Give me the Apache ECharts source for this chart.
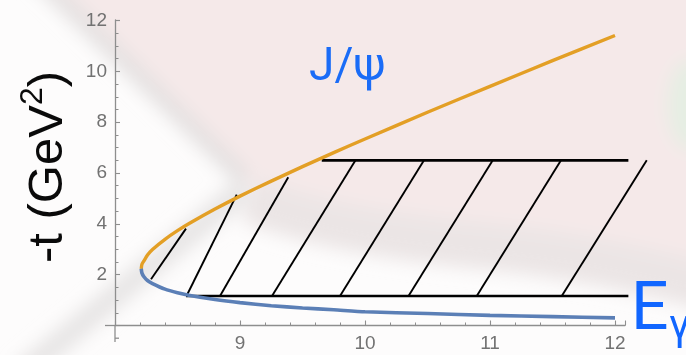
<!DOCTYPE html>
<html>
<head>
<meta charset="utf-8">
<script src="https://cdn.jsdelivr.net/npm/echarts@6/dist/echarts.min.js"></script>
<style>
  html, body { margin: 0; padding: 0; background: #fff; }
  #wrap { position: relative; width: 686px; height: 355px; overflow: hidden; }
  #bg { position: absolute; left: 0; top: 0; }
  #chart { position: absolute; left: 0; top: 0; width: 686px; height: 355px; }
</style>
</head>
<body>
<div id="wrap">
  <!-- soft slide backdrop behind the plot -->
  <svg id="bg" width="686" height="355">
    <defs>
      <filter id="soft" x="-30%" y="-30%" width="160%" height="160%">
        <feGaussianBlur stdDeviation="9"/>
      </filter>
    </defs>
    <rect width="686" height="355" fill="#fdfcfc"/>
    <g filter="url(#soft)">
      <path d="M30,-30 L720,-30 L720,292 Q520,252 310,228 L245,182 Z" fill="#f5e9e9"/>
      <path d="M250,200 Q330,232 480,246 Q600,258 720,290" stroke="#ebe5e5" stroke-width="46" fill="none"/>
      <path d="M30,-30 L245,180" stroke="#e2dfdf" stroke-width="16" fill="none"/>
      <path d="M245,188 L20,375" stroke="#e6e4e4" stroke-width="22" fill="none"/>
      <ellipse cx="690" cy="105" rx="22" ry="45" fill="#e5eee3"/>
    </g>
  </svg>
  <div id="chart"></div>
</div>
<script>
// Photon energy E_γ (GeV) and the kinematic limits of -t (GeV^2)
const energy = [8.21, 8.215, 8.23, 8.26, 8.3, 8.4, 8.5, 8.6, 8.8, 9.0, 9.25, 9.5, 9.75, 10, 10.5, 11, 11.5, 12];
const tUpper = [2.23, 2.40, 2.53, 2.77, 2.99, 3.39, 3.73, 4.03, 4.58, 5.09, 5.68, 6.25, 6.80, 7.34, 8.39, 9.41, 10.42, 11.41];
const tLower = [2.23, 2.07, 1.93, 1.77, 1.65, 1.43, 1.29, 1.18, 1.02, 0.90, 0.78, 0.69, 0.62, 0.54, 0.47, 0.40, 0.35, 0.30];

// Hatched acceptance band: slanted strokes and the two horizontal edges
const hatchLines = [
  [[8.288, 1.82], [8.568, 3.81]],
  [[8.572, 1.16], [8.974, 5.15]],
  [[8.840, 1.16], [9.386, 5.83]],
  [[9.256, 1.16], [9.924, 6.50]],
  [[9.800, 1.16], [10.472, 6.50]],
  [[10.348, 1.16], [11.022, 6.50]],
  [[10.894, 1.16], [11.568, 6.50]],
  [[11.574, 1.16], [12.254, 6.50]]
];
const bandEdges = [
  [[9.654, 6.50], [12.107, 6.50]],
  [[8.568, 1.16], [12.107, 1.16]]
];

// Axis ticks
const xTicks = [9, 10, 11, 12];
const yTicks = [2, 4, 6, 8, 10, 12];

// Short axis stubs running past the origin
const axisStubs = [
  [[7.92, 0], [8, 0]],
  [[8, 0], [8, -0.65]],
  [[8, -0.5], [8.032, -0.5]]
];

const AXIS_GRAY = '#8e8e8e';
const LABEL_GRAY = '#727272';

const chart = echarts.init(document.getElementById('chart'), null, { renderer: 'canvas' });

// Straight segments drawn through the cartesian scales, free of grid clipping
const segmentSeries = (segs, color, width) => ({
  type: 'custom',
  coordinateSystem: 'cartesian2d',
  clip: false,
  silent: true,
  z: 3,
  encode: { x: [0, 2], y: [1, 3] },
  data: segs.map(s => [s[0][0], s[0][1], s[1][0], s[1][1]]),
  renderItem: (params, api) => {
    const a = api.coord([api.value(0), api.value(1)]);
    const b = api.coord([api.value(2), api.value(3)]);
    return {
      type: 'line',
      shape: { x1: a[0], y1: a[1], x2: b[0], y2: b[1] },
      style: { stroke: color, lineWidth: width, lineCap: 'butt' }
    };
  }
});

chart.setOption({
  animation: false,
  backgroundColor: 'transparent',
  grid: { left: 115, right: 61, top: 20, bottom: 29.5, containLabel: false },
  xAxis: {
    type: 'value', min: 8, max: 12.08, interval: 1,
    axisLine: { show: true, lineStyle: { color: AXIS_GRAY, width: 1.3 } },
    axisTick: { show: true, inside: true, length: 5, lineStyle: { color: AXIS_GRAY, width: 1.1 } },
    minorTick: { show: true, splitNumber: 5, length: 3, lineStyle: { color: AXIS_GRAY, width: 1 } },
    splitLine: { show: false },
    axisLabel: {
      show: true, margin: 9, color: LABEL_GRAY, fontSize: 19, fontFamily: 'Liberation Sans',
      formatter: v => (xTicks.indexOf(v) >= 0 ? String(v) : '')
    }
  },
  yAxis: {
    type: 'value', min: 0, max: 12.02, interval: 2,
    axisLine: { show: true, lineStyle: { color: AXIS_GRAY, width: 1.3 } },
    axisTick: { show: true, inside: true, length: 5, lineStyle: { color: AXIS_GRAY, width: 1.1 } },
    minorTick: { show: true, splitNumber: 4, length: 3.5, lineStyle: { color: AXIS_GRAY, width: 1 } },
    splitLine: { show: false },
    axisLabel: {
      show: true, margin: 8, color: LABEL_GRAY, fontSize: 19, fontFamily: 'Liberation Sans',
      formatter: v => (yTicks.indexOf(v) >= 0 ? String(v) : '')
    }
  },
  series: [
    {
      type: 'line', name: 'upper', symbol: 'none', smooth: 0.2, z: 4,
      data: energy.map((e, i) => [e, tUpper[i]]),
      lineStyle: { color: '#e39f25', width: 3.4 }
    },
    {
      type: 'line', name: 'lower', symbol: 'none', smooth: 0.2, z: 4,
      data: energy.map((e, i) => [e, tLower[i]]),
      lineStyle: { color: '#5b7fb6', width: 3.6 }
    },
    segmentSeries(hatchLines, '#000', 1.9),
    segmentSeries(bandEdges, '#000', 2.7),
    segmentSeries(axisStubs, AXIS_GRAY, 1.3)
  ],
  graphic: [
    {
      type: 'text', x: 45, y: 167, rotation: Math.PI / 2, z: 10,
      style: {
        text: '{m|-t (GeV}{s|2}{m|)}',
        align: 'center', verticalAlign: 'middle',
        rich: {
          m: { fontSize: 49, fontFamily: 'Liberation Sans', fill: '#0a0a0a', verticalAlign: 'bottom', lineHeight: 56 },
          s: { fontSize: 32, fontFamily: 'Liberation Sans', fill: '#0a0a0a', verticalAlign: 'top', lineHeight: 56 }
        }
      }
    },
    {
      type: 'text', x: 309, y: 68, z: 10,
      style: { text: 'J/ψ', fontSize: 46, fontFamily: 'Roboto', fill: '#1a6cf7', align: 'left', verticalAlign: 'middle' }
    },
    {
      type: 'text', x: 631, y: 312, z: 10,
      style: { text: 'E', fontSize: 66, fontFamily: 'Roboto', fill: '#1166ff', align: 'left', verticalAlign: 'middle' }
    },
    {
      type: 'text', x: 669, y: 328, z: 10,
      style: { text: 'γ', fontSize: 42, fontFamily: 'Roboto', fill: '#1166ff', align: 'left', verticalAlign: 'middle' }
    }
  ]
});
</script>
</body>
</html>
